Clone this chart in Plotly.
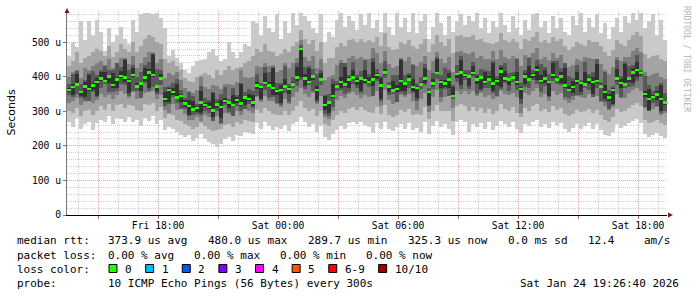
import plotly.graph_objects as go
import pandas as pd

# ---------------- data (microseconds) ----------------
ping_min = [268,255,280,250,262,270,245,265,275,270,285,262,280,278,270,282,268,275,258,280,272,285,262,275,245,
            255,248,240,232,225,230,215,222,235,220,212,205,198,205,220,225,215,232,228,240,238,235,
            265,250,268,258,245,255,248,260,242,262,270,282,268,255,262,240,258,225,218,235,245,258,250,265,270,262,268,260,
            255,238,265,250,270,248,242,255,262,250,265,245,252,240,268,235,258,272,255,262,250,232,268,275,270,
            240,262,255,265,250,268,245,258,272,262,255,268,250,238,262,258,270,275,255,262,252,268,260,265,248,
            240,252,262,250,258,265,248,262,245,232,228,240,262,252,258,265,272,278,265,235,225,232,238,228,222]
ping_2 = [300,295,310,285,300,305,290,302,315,305,320,300,318,322,310,318,315,305,300,320,318,325,300,312,280,
          295,288,275,272,262,258,250,255,265,256,250,242,245,248,260,262,255,268,262,275,272,268,
          305,295,310,300,292,290,288,300,288,302,315,330,310,300,308,285,300,262,258,275,290,300,295,308,312,305,312,305,
          298,295,312,292,318,290,282,290,305,298,308,290,292,288,312,278,300,318,300,302,300,272,315,320,315,
          300,312,302,310,296,308,292,302,320,308,302,312,296,282,310,302,315,322,300,308,298,315,304,310,292,
          285,292,305,298,300,308,296,304,290,276,268,282,308,298,300,310,318,325,315,275,265,270,276,266,260]
ping_3 = [325,330,338,318,332,330,325,340,350,342,355,335,348,358,350,345,355,336,338,352,360,360,335,348,305,
          328,320,305,308,292,285,276,282,295,288,282,272,285,280,295,292,285,300,290,308,302,296,
          340,332,345,338,330,322,325,336,326,340,355,368,350,340,352,322,345,292,295,312,332,345,338,350,355,346,352,348,
          342,345,358,335,362,332,322,328,346,340,350,330,330,335,352,318,340,362,342,340,345,310,360,365,358,
          350,360,345,352,340,348,336,344,365,350,346,352,340,322,354,346,358,368,342,350,340,358,346,354,334,
          325,332,346,340,338,350,340,345,330,316,305,322,350,340,338,352,362,368,360,312,302,308,312,302,295]
ping_4 = [346,342,349,337,327,330,356,333,367,378,347,357,360,379,377,339,358,360,338,382,355,371,350,376,316,
          292,342,325,307,306,274,290,292,272,302,294,272,301,262,319,298,287,316,300,308,321,309,
          345,326,361,331,340,325,312,354,322,368,373,390,363,375,360,327,375,284,278,302,359,361,351,357,379,368,338,378,
          369,344,387,314,396,347,351,326,353,346,368,353,303,363,375,297,363,393,327,363,344,335,384,349,391,
          364,399,350,358,366,368,353,342,360,383,359,386,362,295,370,366,390,378,355,374,329,387,379,376,341,
          339,345,344,346,367,362,341,367,328,327,307,312,377,339,368,370,372,388,400,310,300,325,314,288,302]
ping_5 = [356,348,374,345,342,360,361,345,387,385,382,367,366,397,386,353,398,368,360,387,367,399,357,392,326,
          322,347,337,327,313,289,300,298,290,311,308,282,309,267,324,310,315,323,316,318,331,315,
          363,335,375,371,348,347,317,366,350,375,389,400,373,381,390,332,387,304,285,337,369,367,369,366,393,376,360,383,
          381,372,394,330,406,357,357,356,358,358,388,360,338,373,381,315,372,407,367,371,366,340,396,377,398,
          374,405,380,363,378,388,360,377,370,389,377,395,376,335,378,388,395,390,383,381,345,397,389,382,366,
          359,352,379,356,373,380,350,381,368,335,329,317,389,367,375,386,382,398,406,340,305,337,334,295,317]
ping_6 = [367,378,408,359,384,405,381,395,413,413,404,411,399,417,448,394,425,381,384,426,422,465,377,409,357,
          366,367,380,351,332,333,330,314,360,325,327,352,326,332,339,329,346,342,382,345,349,347,
          384,374,410,385,428,363,376,394,370,386,428,484,407,425,406,372,410,343,329,380,379,400,428,398,418,397,399,418,
          400,442,411,395,421,376,388,375,448,385,406,392,373,386,425,359,392,450,391,390,410,370,412,447,412,
          406,430,401,402,413,402,440,393,429,417,397,406,415,369,412,432,411,430,406,420,389,440,399,415,425,
          372,388,413,386,413,399,400,438,378,375,349,366,423,392,438,400,426,442,415,358,365,346,360,375,331]
ping_7 = [379,408,416,379,390,420,416,405,418,435,418,419,439,429,454,419,434,399,414,433,442,470,422,419,371,
          372,382,415,361,337,355,344,322,400,337,333,377,335,350,369,336,366,347,427,355,363,359,
          409,383,428,415,435,383,381,439,380,400,440,492,427,431,421,407,420,348,351,394,387,440,440,404,443,406,417,448,
          408,482,423,401,446,385,406,405,455,405,411,437,383,400,437,367,412,456,406,425,420,375,434,461,420,
          420,442,409,422,419,417,475,403,434,439,411,414,455,381,418,457,420,448,436,427,409,445,444,425,439,
          402,395,433,391,458,409,414,450,386,415,361,372,448,401,456,430,433,462,420,403,375,360,372,383,353]
ping_8 = [400,415,420,395,425,412,430,440,445,430,450,425,440,455,450,438,460,425,440,458,470,465,440,450,395,
          410,405,392,390,368,360,352,362,372,370,365,355,372,365,380,378,375,385,378,398,395,400,
          430,428,440,432,425,415,420,432,425,440,455,505,458,445,460,425,452,390,398,405,435,448,440,455,460,450,458,452,
          450,455,468,440,475,438,425,430,452,445,458,435,432,442,460,420,445,472,450,440,458,415,470,475,468,
          465,472,455,460,450,452,445,450,478,458,452,460,450,430,462,455,468,482,452,458,448,468,455,462,440,
          428,435,452,446,442,455,450,452,438,420,408,428,458,446,442,458,475,482,472,415,402,408,412,400,392]
ping_9 = [430,445,470,440,455,460,470,480,475,460,490,458,470,495,480,470,500,470,490,510,520,515,500,495,450,
          440,445,430,420,395,388,385,400,405,410,405,395,420,405,418,430,420,425,420,440,445,460,
          480,470,495,475,470,460,465,480,470,488,500,535,510,495,505,475,500,440,455,455,485,498,490,505,510,500,508,500,
          505,500,515,490,525,485,478,480,500,495,505,488,480,495,510,470,495,520,500,488,508,468,518,522,515,
          515,520,505,508,500,498,495,500,525,505,500,508,500,480,510,502,515,530,500,505,498,515,502,510,490,
          478,485,500,495,490,505,500,500,488,470,460,478,505,495,490,505,522,528,518,465,455,460,462,452,445]
ping_max = [460,500,485,560,505,560,520,565,530,475,540,500,520,545,510,495,565,530,580,585,585,580,585,570,540,
            460,478,455,440,420,410,430,445,448,450,470,480,460,445,450,500,470,455,470,495,490,560,
            555,520,575,540,530,580,510,560,525,585,550,585,575,560,540,525,580,500,530,515,565,585,545,575,560,535,580,550,
            585,540,565,530,585,545,520,585,545,570,530,585,525,560,580,510,545,585,555,520,575,530,560,580,550,
            575,560,585,540,570,525,560,545,585,550,530,575,540,520,565,535,580,585,545,560,525,575,540,570,530,
            520,575,550,585,530,570,545,580,525,555,510,545,570,530,575,555,585,565,585,540,560,580,520,565,505]
median = [362,370,378,355,372,365,375,385,395,388,400,376,392,402,398,388,405,372,380,398,412,405,372,395,335,
          362,355,340,345,322,315,305,310,325,318,312,302,320,312,330,325,318,332,322,340,335,325,
          375,370,382,375,368,358,362,372,365,378,398,480,395,385,400,362,392,318,325,345,372,385,378,392,398,388,395,390,
          385,392,405,375,412,372,360,365,388,380,392,370,368,378,395,355,380,410,385,380,392,345,408,412,405,
          400,410,392,398,385,392,380,388,415,395,392,398,385,365,400,392,405,420,388,395,385,405,392,400,375,
          362,370,388,382,378,392,385,388,372,355,340,362,395,382,378,395,412,420,410,350,335,342,348,335,325]

time_start = "2026-01-23 13:26:40"
time_end = "2026-01-24 19:26:40"
x_tick_times = ["2026-01-23 15:00", "2026-01-23 18:00", "2026-01-23 21:00", "2026-01-24 00:00",
                "2026-01-24 03:00", "2026-01-24 06:00", "2026-01-24 09:00", "2026-01-24 12:00",
                "2026-01-24 15:00", "2026-01-24 18:00"]
x_tick_labels = ["", "Fri 18:00", "", "Sat 00:00", "", "Sat 06:00", "", "Sat 12:00", "", "Sat 18:00"]
y_tick_vals = [0, 100, 200, 300, 400, 500]
y_tick_labels = ["0", "100 u", "200 u", "300 u", "400 u", "500 u"]

rtt_label = "median rtt:"
rtt_stats = ["373.9 us avg", "480.0 us max", "289.7 us min", "325.3 us now", "0.0 ms sd", "12.4", "am/s"]
loss_label = "packet loss:"
loss_stats = ["0.00 % avg", "0.00 % max", "0.00 % min", "0.00 % now"]
color_label = "loss color:"
loss_names = ["0", "1", "2", "3", "4", "5", "6-9", "10/10"]
loss_colors = ["#26ff00", "#00b8ff", "#0059ff", "#7e00ff", "#ff00ff", "#ff5500", "#ff0000", "#a10000"]
probe_label = "probe:"
probe_text = "10 ICMP Echo Pings (56 Bytes) every 300s"
stamp_text = "Sat Jan 24 19:26:40 2026"
watermark = "RRDTOOL / TOBI OETIKER"

pings = [ping_min, ping_2, ping_3, ping_4, ping_5, ping_6, ping_7, ping_8, ping_9, ping_max]
N = len(median)
assert all(len(a) == N for a in pings), [len(a) for a in pings]
# pings are rank-ordered per sample (smoke bands are drawn between rank k and rank 11-k)
ranked = [sorted(col) for col in zip(*pings)]
rank = [[col[k] for col in ranked] for k in range(10)]

t0 = pd.Timestamp(time_start)
t1 = pd.Timestamp(time_end)
step = (t1 - t0) / N
times = [t0 + step * (i + 0.5) for i in range(N)]
bar_w = step.total_seconds() * 1000 * 1.02

# ---------------- figure ----------------
W, H = 697, 297
ML, MR, MT, MB = 67, 30, 11, 82
PW, PH = W - ML - MR, H - MT - MB

def px(x):
    return (x - ML) / PW

def py(y):
    return (MT + PH - y) / PH

fig = go.Figure()
smoke_colors = ["#cacaca", "#a4a4a4", "#7e7e7e", "#585858", "#323232"]
for k, col in enumerate(smoke_colors):
    lo, hi = rank[k], rank[9 - k]
    fig.add_trace(go.Bar(x=times, base=lo, y=[h - l for h, l in zip(hi, lo)], width=bar_w,
                         marker=dict(color=col, line=dict(width=0)), hoverinfo="skip", showlegend=False))
fig.add_trace(go.Bar(x=times, base=[m - 3.5 for m in median], y=[7] * N, width=bar_w,
                     marker=dict(color=loss_colors[0], line=dict(width=0)), hoverinfo="skip", showlegend=False))

GRID = "#d0d0d0"
MGRID = "#e8a8a8"
DASH = "1px,1px"
MONO = "DejaVu Sans Mono"

fig.update_layout(
    width=W, height=H, autosize=False,
    margin=dict(l=ML, r=MR, t=MT, b=MB, pad=0),
    paper_bgcolor="white", plot_bgcolor="white",
    barmode="overlay", bargap=0, showlegend=False,
    font=dict(family=MONO, size=11, color="#000"),
    xaxis=dict(type="date", range=[t0, t1], tickmode="array", tickvals=x_tick_times, ticktext=x_tick_labels,
               showgrid=True, gridcolor=MGRID, griddash=DASH, gridwidth=1,
               ticks="outside", ticklen=3, tickcolor="#b07070", tickwidth=1,
               showline=True, linecolor="#000", linewidth=1, zeroline=False,
               tickfont=dict(family=MONO, size=9.7, color="#000"), ticklabelstandoff=-2,
               minor=dict(dtick=3600000, tick0="2026-01-23 14:00:00", showgrid=True,
                          gridcolor=GRID, griddash=DASH, gridwidth=1, ticks=""),
               fixedrange=True),
    yaxis=dict(range=[0, 590], tickmode="array", tickvals=y_tick_vals, ticktext=y_tick_labels,
               showgrid=True, gridcolor=MGRID, griddash=DASH, gridwidth=1,
               ticks="outside", ticklen=3, tickcolor="#777", tickwidth=1,
               showline=True, linecolor="#777", linewidth=1, zeroline=False,
               tickfont=dict(family=MONO, size=9.7, color="#000"),
               minor=dict(dtick=20, showgrid=True, gridcolor=GRID, griddash=DASH, gridwidth=1, ticks=""),
               fixedrange=True),
)

ARROW = "#8b1010"
shapes = [
    dict(type="path", xref="paper", yref="paper", xsizemode="pixel", ysizemode="pixel",
         xanchor=0, yanchor=1, path="M -2.5,-2 L 2.5,-2 L 0,3 Z", fillcolor=ARROW, line=dict(width=0)),
    dict(type="path", xref="paper", yref="paper", xsizemode="pixel", ysizemode="pixel",
         xanchor=1, yanchor=0, path="M 1,-2.5 L 1,2.5 L 6,0 Z", fillcolor=ARROW, line=dict(width=0)),
]

ann = []
def text(s, x, y, anchor="left", size=11, color="#000", family=MONO, angle=0):
    ann.append(dict(text=s.replace(" ", "\u00a0"), x=px(x), y=py(y), xref="paper", yref="paper",
                    xanchor=anchor, yanchor="middle", showarrow=False, borderpad=0, textangle=angle,
                    font=dict(family=family, size=size, color=color)))

# row 1
text(rtt_label, 16, 240.7)
for s, x in zip(rtt_stats, [107.3, 206.7, 307.3, 406.7, 507.3, 586.7, 643.3]):
    text(s, x, 240.7)
# row 2
text(loss_label, 16, 255.3)
for s, x in zip(loss_stats, [107.3, 193.3, 279.3, 365.3]):
    text(s, x, 255.3)
# row 3 legend
text(color_label, 16, 269.3)
xpos = 109.0
for name, col in zip(loss_names, loss_colors):
    shapes.append(dict(type="rect", xref="paper", yref="paper", x0=px(xpos), x1=px(xpos + 8),
                       y0=py(272.5), y1=py(264.5), fillcolor=col, line=dict(color="#000", width=1)))
    text(name, xpos + 15, 269.3)
    xpos = xpos + 15 + len(name) * 6.63 + 15
# row 4
text(probe_label, 16, 283.3)
text(probe_text, 107.3, 283.3)
text(stamp_text, 680, 283.3, anchor="right")
# axis title and watermark
text("Seconds", 10.5, 113, anchor="center", size=11, family="DejaVu Sans", angle=-90)
text(watermark, 687, 59, anchor="center", size=8, color="#b4b4b4", angle=90)

fig.update_layout(shapes=shapes, annotations=ann)
fig.write_html("out.html")
